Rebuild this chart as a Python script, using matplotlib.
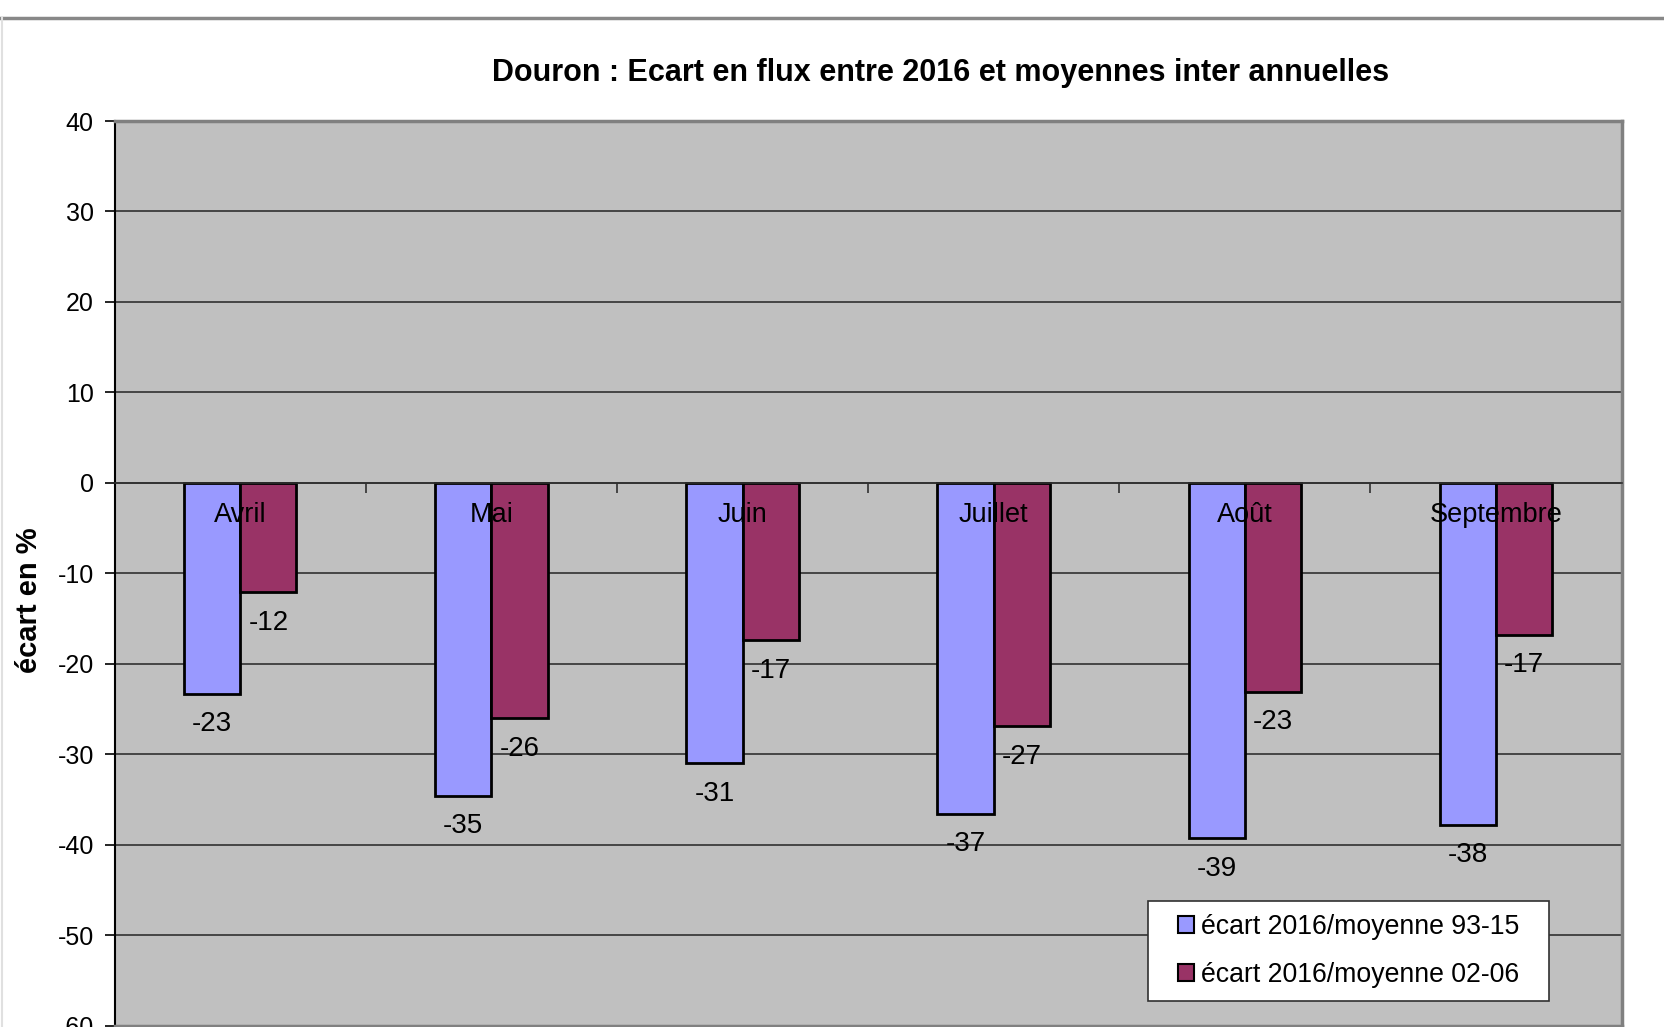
import matplotlib
matplotlib.use('Agg')
import matplotlib.pyplot as plt
from matplotlib.lines import Line2D

plt.rcParams['font.family'] = ['Liberation Sans', 'DejaVu Sans']

# ~~~ DATA ~~~~~~~~~~~~~~~~~~~~~~~~~~~~~~~~~~~~~~~~~~~~~~~~~~~~~~~~~~~~~~~~~~~
mois = ['Avril', 'Mai', 'Juin', 'Juillet', 'Août', 'Septembre']
ecart_93_15 = [-23.3, -34.6, -31.0, -36.6, -39.3, -37.8]
ecart_02_06 = [-12.1, -26.0, -17.4, -26.9, -23.1, -16.8]
series_labels = ['écart 2016/moyenne 93-15', 'écart 2016/moyenne 02-06']
y_ticks = [40, 30, 20, 10, 0, -10, -20, -30, -40, -50, -60]

col_blue = '#9999ff'
col_red = '#993366'
bar_w = 0.224

# ~~~ PLOT ~~~~~~~~~~~~~~~~~~~~~~~~~~~~~~~~~~~~~~~~~~~~~~~~~~~~~~~~~~~~~~~~~~~
fig = plt.figure(figsize=(16.64, 10.27), dpi=100)
ax = fig.add_axes([0.0689, 0.00136, 0.9056, 0.8808])
ax.set_facecolor('#c0c0c0')
ax.set_axisbelow(True)

x = range(len(mois))
b1 = ax.bar([i - bar_w / 2 for i in x], ecart_93_15, bar_w, color=col_blue,
            edgecolor='black', linewidth=2, zorder=2)
b2 = ax.bar([i + bar_w / 2 for i in x], ecart_02_06, bar_w, color=col_red,
            edgecolor='black', linewidth=2, zorder=2)

# value labels under the end of each bar
for bars, vals in ((b1, ecart_93_15), (b2, ecart_02_06)):
    for rect, v in zip(bars, vals):
        ax.annotate(f'{v:.0f}', (rect.get_x() + rect.get_width() / 2, v),
                    xytext=(0, -22), textcoords='offset points',
                    ha='center', va='center', fontsize=20, zorder=5)

# month names just below the zero line, on top of the bars
for i, m in enumerate(mois):
    ax.annotate(m, (i, 0), xytext=(0, -23.5), textcoords='offset points',
                ha='center', va='center', fontsize=19.5, zorder=5)

ax.set_xlim(-0.5, len(mois) - 0.5)
ax.set_ylim(-60, 40)
ax.set_yticks(y_ticks)
ax.set_yticklabels([str(t) for t in y_ticks], fontsize=18)
ax.yaxis.grid(True, color='#303030', linewidth=1.2)
ax.tick_params(axis='y', direction='out', length=7, width=1.2, pad=8)

# category axis crossing at zero with tick marks between months
ax.spines['bottom'].set_position(('data', 0))
ax.spines['bottom'].set_color('#303030')
ax.spines['bottom'].set_linewidth(1.2)
ax.set_xticks([i + 0.5 for i in range(len(mois))])
ax.set_xticklabels([])
ax.tick_params(axis='x', direction='out', length=7, width=1.2, color='#303030')

ax.spines['left'].set_color('black')
ax.spines['left'].set_linewidth(1.5)
for s in ('top', 'right'):
    ax.spines[s].set_color('#808080')
    ax.spines[s].set_linewidth(2.5)
ax.axhline(-60, color='#808080', linewidth=2.5, clip_on=False, zorder=3)

fig.text(0.565, 0.929, 'Douron : Ecart en flux entre 2016 et moyennes inter annuelles',
         ha='center', va='center', fontsize=22, fontweight='bold')
fig.text(0.0172, 0.416, 'écart en %', rotation=90, ha='center', va='center',
         fontsize=21, fontweight='bold')

# legend: white box with the entries centred inside
box_x0, box_y0, box_x1, box_y1 = 0.6859, 0.0275, 0.9521, 0.1377
ax.add_patch(plt.Rectangle((box_x0, box_y0), box_x1 - box_x0, box_y1 - box_y0,
                           transform=ax.transAxes, facecolor='white',
                           edgecolor='#303030', linewidth=1.2, zorder=6))
handles = [plt.Rectangle((0, 0), 1, 1, facecolor=col_blue, edgecolor='black', lw=1.5),
           plt.Rectangle((0, 0), 1, 1, facecolor=col_red, edgecolor='black', lw=1.5)]
leg = ax.legend(handles, series_labels, loc='center',
                bbox_to_anchor=((box_x0 + box_x1) / 2, (box_y0 + box_y1) / 2),
                fontsize=19.2, frameon=False, handlelength=0.6,
                handleheight=0.6, handletextpad=0.25, borderaxespad=0,
                labelspacing=0.8, borderpad=0)
leg.set_zorder(7)

# outer frame lines
fig.add_artist(Line2D([0, 1], [1 - 18 / 1027] * 2, color='#888888', lw=2.5))
fig.add_artist(Line2D([0.0015, 0.0015], [0, 1 - 18 / 1027], color='#e0e0e0', lw=1.5))

fig.savefig('out.png', dpi=100)
